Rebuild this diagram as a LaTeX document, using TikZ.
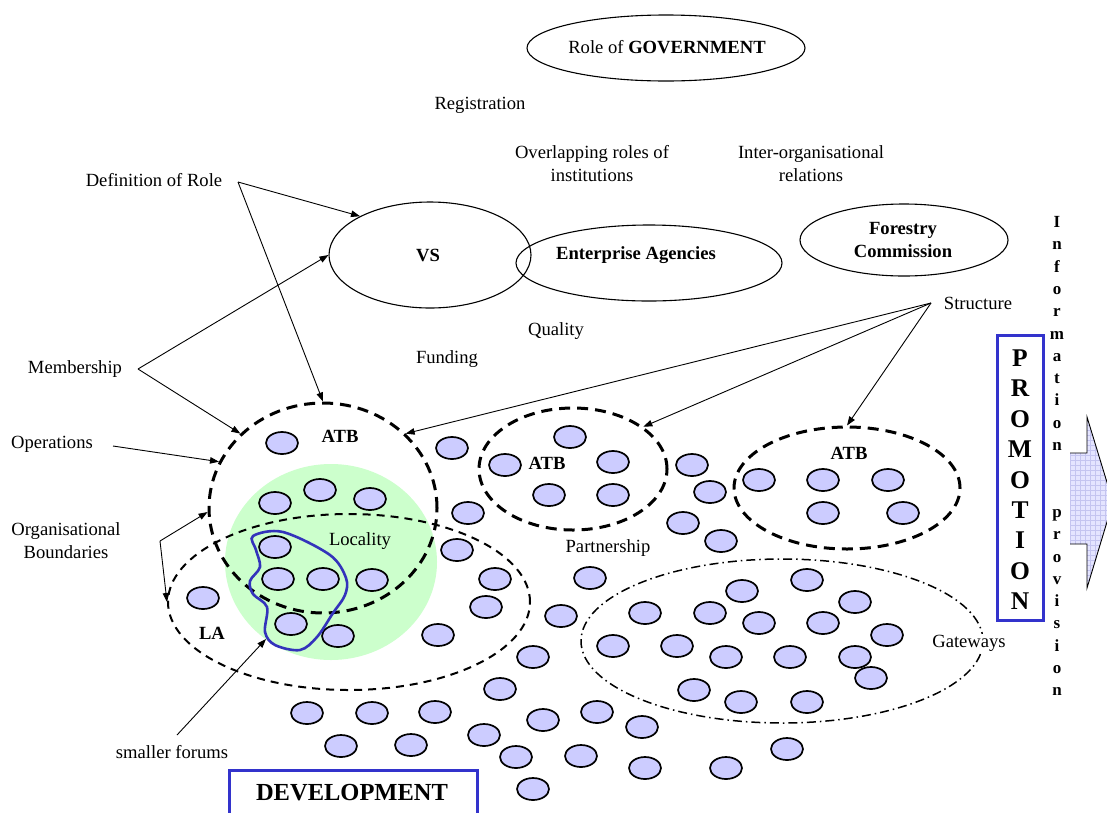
\documentclass[tikz,border=0pt]{standalone}
\usepackage{fontspec}
\setmainfont{Liberation Serif}
\usetikzlibrary{shapes.geometric,arrows.meta}
\definecolor{dotfill}{RGB}{204,204,255}
\definecolor{locgreen}{RGB}{204,255,204}
\definecolor{fblue}{RGB}{51,51,187}
\definecolor{boxblue}{RGB}{51,51,204}
\definecolor{arrowfill}{RGB}{228,228,255}
\definecolor{gridc}{RGB}{196,196,240}
\begin{document}
\begin{tikzpicture}[x=1pt,y=-1pt,
  txt/.style={font=\fontsize{18.6}{23}\selectfont, inner sep=0pt, align=center},
  btxt/.style={font=\fontsize{18.6}{23}\selectfont\bfseries, inner sep=0pt, align=center},
  bigell/.style={draw, ellipse, inner sep=0pt, line width=1.1pt},
  dotell/.style={draw, ellipse, fill=dotfill, line width=1.7pt, minimum width=32pt, minimum height=22pt, inner sep=0pt},
  tdash/.style={draw, ellipse, inner sep=0pt, line width=3pt, dash pattern=on 11pt off 7pt},
  ldash/.style={draw, ellipse, inner sep=0pt, line width=2pt, dash pattern=on 8pt off 6pt},
  ddash/.style={draw, ellipse, inner sep=0pt, line width=1.5pt, dash pattern=on 9pt off 4pt on 1.5pt off 4pt},
  arr/.style={-{Triangle[length=9pt,width=6.5pt]}, line width=0.9pt},
  bluebox/.style={draw=boxblue, line width=3pt, inner sep=0pt}
]
\useasboundingbox (0,0) rectangle (1107,812);
\clip (0,0) rectangle (1107,812);
\fill[white] (0,0) rectangle (1107,812);

% top ellipses
\node[bigell, minimum width=278pt, minimum height=66pt] (gov) at (666,48) {};
\node[txt] (govt) at (667,47) {Role of \textbf{GOVERNMENT}};
\node[bigell, minimum width=202pt, minimum height=106pt] (vs) at (430,255) {};
\node[bigell, minimum width=266pt, minimum height=76pt] (ea) at (649,263) {};
\node[bigell, minimum width=208pt, minimum height=72pt] (fc) at (904,240) {};
\node[btxt] (vst) at (428,255) {VS};
\node[btxt] (eat) at (636,255) {Enterprise Agencies};
\node[btxt] (fct) at (903,240) {Forestry\\Commission};

% free labels
\node[txt] (reg) at (480,105) {Registration};
\node[txt] (ovl) at (592,164) {Overlapping roles of\\institutions};
\node[txt] (inter) at (811,164) {Inter-organisational\\relations};
\node[txt] (def) at (154,180) {Definition of Role};
\node[txt] (str) at (978,303) {Structure};
\node[txt] (qual) at (556,331) {Quality};
\node[txt] (fund) at (447,359) {Funding};
\node[txt] (mem) at (75,369) {Membership};
\node[txt] (ops) at (52,444) {Operations};
\node[txt] (org) at (66,541) {Organisational\\Boundaries};

% locality and groupings
\node[ellipse, fill=locgreen, minimum width=212pt, minimum height=196pt, inner sep=0pt] (loc) at (331,562) {};
\node[ldash, minimum width=362pt, minimum height=176pt] (la) at (349,602) {};
\node[tdash, minimum width=228pt, minimum height=210pt] (atb1) at (323,508) {};
\node[tdash, minimum width=188pt, minimum height=122pt] (atb2) at (573,469) {};
\node[tdash, minimum width=226pt, minimum height=122pt] (atb3) at (847,488) {};
\node[ddash, minimum width=402pt, minimum height=164pt] (gw) at (782,641) {};

% small organisations
\foreach \px/\py [count=\k] in {
 282/443, 275/503, 320/490, 370/499, 275/547, 278/579, 323/579, 372/580,
 203/598, 291/624, 338/636, 438/635, 452/448, 570/437, 505/465, 613/462,
 549/495, 613/495, 692/465, 710/492, 683/523, 721/541, 468/513, 457/550,
 495/579, 486/607, 590/578, 561/616, 533/657, 759/480, 823/480, 888/480,
 823/513, 903/513, 807/580, 742/591, 855/602, 645/613, 710/613, 759/623,
 823/623, 887/635, 613/646, 677/646, 726/657, 790/657, 855/657, 871/678,
 694/690, 741/702, 807/702, 500/689, 435/712, 543/720, 597/712, 642/727,
 484/735, 411/745, 516/757, 581/756, 645/768, 726/768, 787/749, 533/789,
 307/713, 372/713, 341/746}
  \node[dotell] (o\k) at (\px,\py) {};

% smaller forums outline
\draw[fblue, line width=2.6pt] plot[smooth cycle, tension=0.55] coordinates {
 (253,536) (283,532) (330,555) (346,578) (345,595) (333,613) (317,637)
 (300,650) (275,645) (265,632) (267,607) (253,594) (250,581) (260,567) (256,550)};
\coordinate (sftip) at (266,639);

% group labels
\node[btxt] (atb1t) at (340,436) {ATB};
\node[btxt] (atb2t) at (547,463) {ATB};
\node[btxt] (atb3t) at (849,453) {ATB};
\node[txt] (loct) at (360,541) {Locality};
\node[txt] (part) at (608,548) {Partnership};
\node[btxt] (lat) at (212,633) {LA};
\node[txt, fill=white, inner sep=1pt] (gwt) at (969,643) {Gateways};
\node[txt] (sft) at (172,752) {smaller forums};

% connectors
\coordinate (defap) at (238,182);
\coordinate (memap) at (138,369);
\coordinate (opap) at (113,446);
\coordinate (orgap) at (160,541);
\coordinate (stap) at (931,303);
\coordinate (sfap) at (177,735);
\draw[arr] (defap) -- (vs.151);
\draw[arr] (defap) -- (atb1.north);
\draw[arr] (memap) -- (vs.180);
\draw[arr] (memap) -- (atb1.138);
\draw[arr] (opap) -- (atb1.156);
\draw[arr] (orgap) -- (atb1.182);
\draw[arr] (orgap) -- (la.180);
\draw[arr] (stap) -- (atb1.42);
\draw[arr] (stap) -- (atb2.31);
\draw[arr] (stap) -- (atb3.north);
\draw[arr] (sfap) -- (sftip);

% development
\node[bluebox, minimum width=248pt, minimum height=60pt] (dev) at (353,800) {};
\node[font=\fontsize{24.5}{28}\selectfont\bfseries, inner sep=0pt] (devt) at (352,793) {DEVELOPMENT};

% promotion
\node[bluebox, minimum width=46pt, minimum height=285pt] (promo) at (1020,477.5) {};
\foreach \l [count=\i from 0] in {P,R,O,M,O,T,I,O,N}
  \node[font=\fontsize{25.5}{28}\selectfont\bfseries, inner sep=0pt, anchor=base] (pr\i) at (1020,366.5+30.4*\i) {\l};

% information provision
\foreach \l [count=\i from 0] in {I,n,f,o,r,m,a,t,i,o,n,{},{},p,r,o,v,i,s,i,o,n}
  \node[font=\fontsize{17}{19}\selectfont\bfseries, inner sep=0pt, anchor=base] (ip\i) at (1057,227.5+22.3*\i) {\l};

% block arrow
\begin{scope}
  \clip (1070,453) -- (1087,453) -- (1087,417) -- (1113,502) -- (1087,588) -- (1087,544) -- (1070,544) -- cycle;
  \fill[arrowfill] (1060,410) rectangle (1120,595);
  \draw[gridc, line width=0.5pt, step=5pt] (1060,410) grid (1120,595);
\end{scope}
\draw[line width=0.9pt] (1070,453) -- (1087,453) -- (1087,417) -- (1113,502) -- (1087,588) -- (1087,544) -- (1070,544);
\end{tikzpicture}
\end{document}
